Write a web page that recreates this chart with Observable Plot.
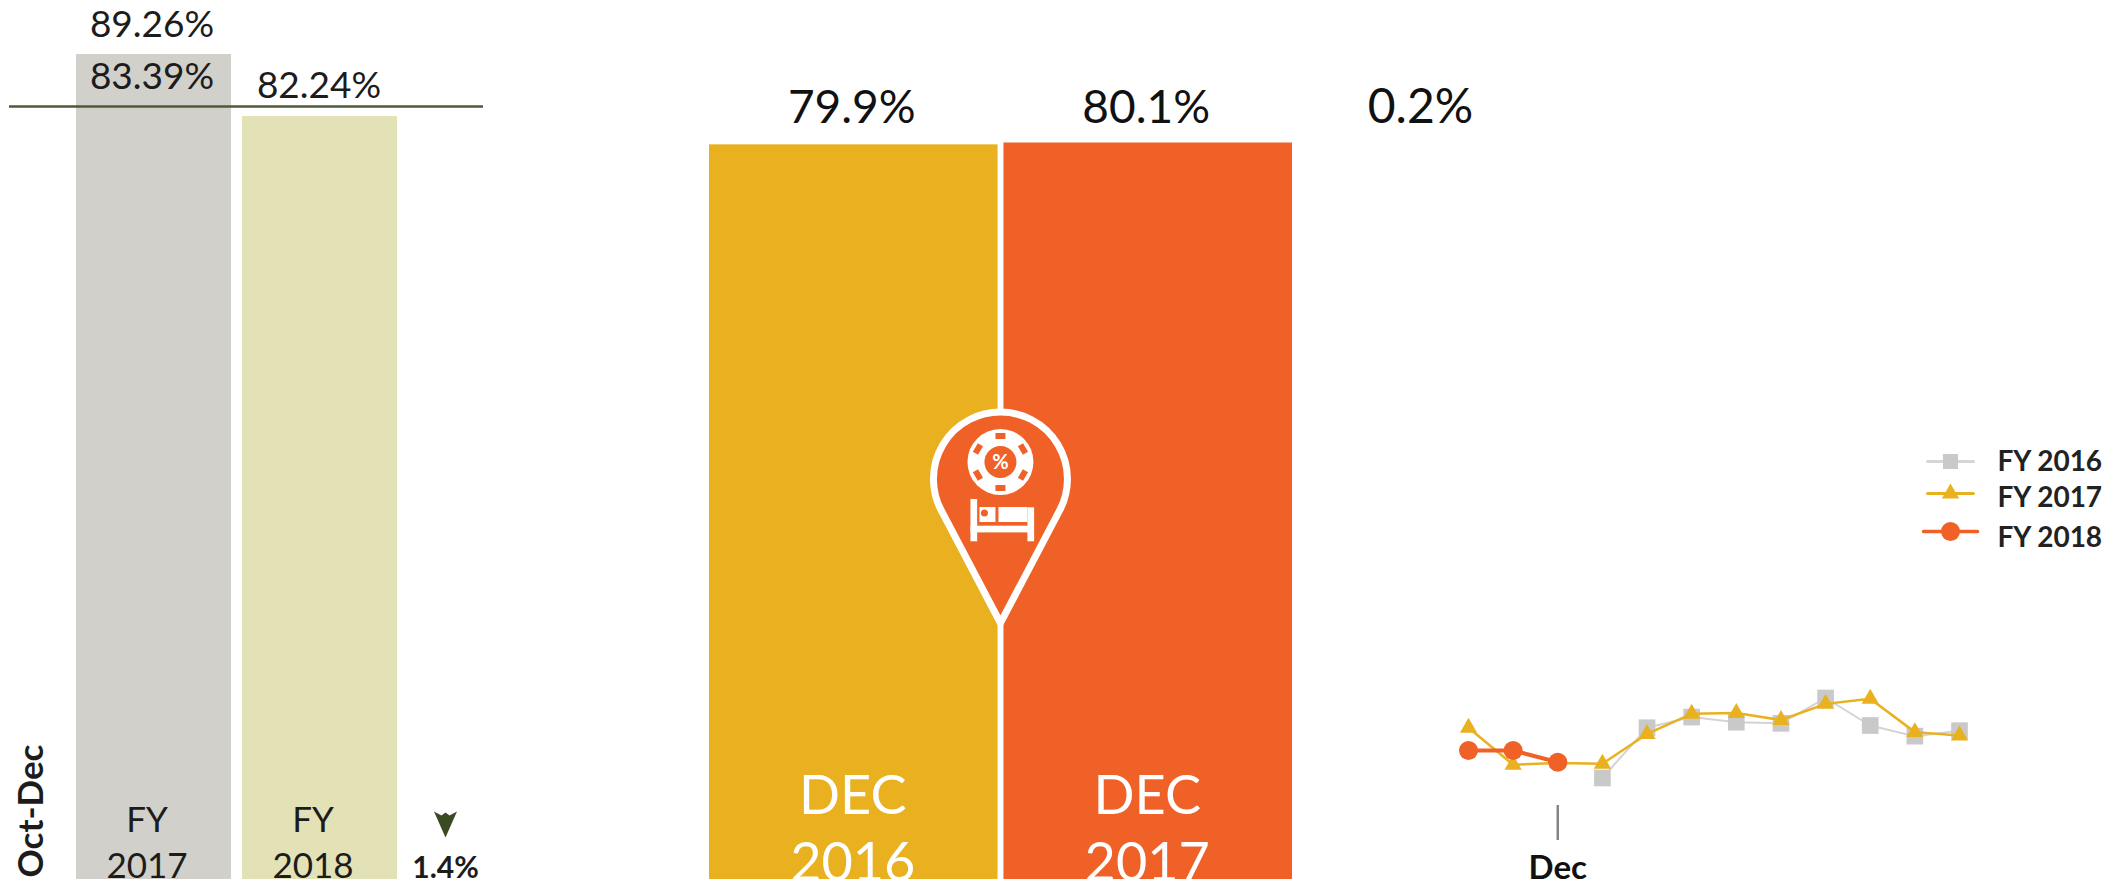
<!DOCTYPE html>
<html>
<head>
<meta charset="utf-8">
<script src="https://cdn.jsdelivr.net/npm/d3@7"></script>
<script src="https://cdn.jsdelivr.net/npm/@observablehq/plot@0.6"></script>
<style>
  html,body{margin:0;padding:0;background:#fff;width:2128px;height:882px;overflow:hidden;position:relative}
  svg{position:absolute}
</style>
</head>
<body>
<script>
// ---- data ----
const fyCategories = ["FY 2017", "FY 2018"];
const fyValues = [89.26, 82.24];
const fyInnerValue = 83.39;
const fyChange = "1.4%";
const periodLabel = "Oct-Dec";

const decCategories = ["DEC 2016", "DEC 2017"];
const decValues = [79.9, 80.1];
const decChange = "0.2%";

const months = ["Oct","Nov","Dec","Jan","Feb","Mar","Apr","May","Jun","Jul","Aug","Sep"];
const fy2016 = [null,null,null,75.8,89.5,92.4,91.0,90.7,97.6,90.1,87.2,88.7];
const fy2017 = [89.5,79.4,79.9,79.7,87.8,93.3,93.5,91.6,96.0,97.4,88.3,87.4];
const fy2018 = [83.3,83.3,80.1,null,null,null,null,null,null,null,null,null];
const legendNames = ["FY 2016","FY 2017","FY 2018"];

const FONT = "Lato, sans-serif";
const INK = "#1c1c1c";
const GREY = "#c9c9c9", YEL = "#e9b120", ORG = "#ef6127";

function place(svg, left, top) {
  svg.style.left = left + "px";
  svg.style.top = top + "px";
  document.body.appendChild(svg);
}
const twoLine = s => s.replace(" ", "\n");

// ---- left panel ----
const fyRows = fyCategories.map((c, i) => ({cat: c, value: fyValues[i]}));
const arrowSymbol = {
  draw(ctx) {
    ctx.moveTo(-11.5, -13); ctx.lineTo(-4, -9); ctx.lineTo(0, -12); ctx.lineTo(4, -9);
    ctx.lineTo(11.5, -13); ctx.lineTo(0, 13); ctx.closePath();
  }
};
place(Plot.plot({
  width: 520, height: 882,
  marginLeft: 9, marginRight: 37, marginTop: 54, marginBottom: 3,
  style: {background: "transparent", overflow: "visible", fontFamily: FONT},
  x: {type: "band", domain: fyCategories, range: [76, 397], paddingInner: 0.066, paddingOuter: 0, round: false, axis: null},
  y: {domain: [-4.06, 89.26], axis: null},
  marks: [
    Plot.barY(fyRows, {x: "cat", y1: -4.06, y2: "value", fill: d => d.cat === fyCategories[0] ? "#d1d0cb" : "#e3e1b6"}),
    Plot.ruleY([fyInnerValue], {stroke: "#4c5a3a", strokeWidth: 2.5}),
    Plot.text([fyRows[0]], {x: "cat", y: "value", text: d => d.value.toFixed(2) + "%", lineAnchor: "bottom", dy: -18, dx: -2, fontSize: 37, fill: INK}),
    Plot.text([fyInnerValue], {x: () => fyCategories[0], y: d => d, text: d => d.toFixed(2) + "%", lineAnchor: "bottom", dy: -17, dx: -2, fontSize: 37, fill: INK}),
    Plot.text([fyRows[1]], {x: "cat", y: "value", text: d => d.value.toFixed(2) + "%", lineAnchor: "bottom", dy: -19, dx: -1, fontSize: 37, fill: INK}),
    Plot.text(fyRows, {x: "cat", text: d => twoLine(d.cat), frameAnchor: "bottom", lineAnchor: "bottom", dy: -2, dx: -7, fontSize: 35, lineHeight: 1.29, fill: INK}),
    Plot.text([periodLabel], {text: d => d, frameAnchor: "bottom-left", textAnchor: "start", lineAnchor: "bottom", rotate: -90, dx: 33, dy: -2, fontSize: 35, fontWeight: 700, fill: INK}),
    Plot.text([fyChange], {text: d => d, frameAnchor: "bottom-right", textAnchor: "middle", lineAnchor: "bottom", dx: -38, dy: -2, fontSize: 30, fontWeight: 700, fill: INK}),
    Plot.dot([fyChange], {frameAnchor: "bottom-right", symbol: arrowSymbol, fill: "#3a4a22", stroke: "none", dx: -38, dy: -55})
  ]
}), 0, 0);

// ---- centre panel ----
const decRows = decCategories.map((c, i) => ({cat: c, value: decValues[i]}));
function pinMark(index, scales) {
  const cx = scales.x(decCategories[1]) - 3;
  const cy = scales.y(0) - 400;
  const g = d3.create("svg:g").attr("transform", `translate(${cx},${cy})`);
  g.append("path").attr("d", "M0,144L-59.3,31.2A67,67 0 1 1 59.3,31.2Z")
    .attr("fill", ORG).attr("stroke", "#fff").attr("stroke-width", 7)
    .attr("stroke-linejoin", "miter").attr("stroke-miterlimit", 10);
  g.append("circle").attr("cy", -17).attr("r", 33).attr("fill", "#fff");
  for (let a = 0; a < 360; a += 60) {
    g.append("rect").attr("x", -5).attr("y", -29).attr("width", 10).attr("height", 6).attr("fill", ORG)
      .attr("transform", `translate(0,-17) rotate(${a})`);
  }
  g.append("circle").attr("cy", -17).attr("r", 16).attr("fill", ORG);
  g.append("text").attr("y", -10).attr("text-anchor", "middle").attr("font-size", 20).attr("font-weight", 700)
    .attr("fill", "#fff").attr("font-family", FONT).text("%");
  const bed = [[-30,20,6.7,42.3],[27,28.3,6.7,34],[-30,46.7,63,6.7],[-21,28,16,15],[-2,28,29,15]];
  for (const [x,y,w,h] of bed) g.append("rect").attr("x",x).attr("y",y).attr("width",w).attr("height",h).attr("fill","#fff");
  g.append("circle").attr("cx",-16).attr("cy",34).attr("r",3.5).attr("fill",ORG);
  return g.node();
}
place(Plot.plot({
  width: 800, height: 882,
  marginLeft: 69, marginRight: 148, marginTop: 142.5, marginBottom: 3,
  style: {background: "transparent", overflow: "visible", fontFamily: FONT},
  x: {type: "band", domain: decCategories, paddingInner: 0.02, paddingOuter: 0, round: false, axis: null},
  y: {domain: [0, 80.1], axis: null},
  marks: [
    Plot.barY(decRows, {x: "cat", y: "value", fill: d => d.cat === decCategories[0] ? YEL : ORG}),
    Plot.text(decRows, {x: "cat", y: () => 80.1, text: d => d.value.toFixed(1) + "%", lineAnchor: "bottom", dy: -20, dx: -2, fontSize: 46, fill: "#111"}),
    Plot.text([decChange], {text: d => d, frameAnchor: "top-right", textAnchor: "middle", lineAnchor: "bottom", dx: 128, dy: -20, fontSize: 48, fill: "#111"}),
    Plot.text(decRows, {x: "cat", text: d => twoLine(d.cat), frameAnchor: "bottom", lineAnchor: "bottom", dy: 1, dx: -1, fontSize: 54, lineHeight: 1.24, fill: "#fff"}),
    pinMark
  ]
}), 640, 0);

// ---- line panel ----
const lineRows = a => months.map((m, i) => ({month: m, v: a[i]})).filter(d => d.v != null);
place(Plot.plot({
  width: 560, height: 222,
  marginLeft: 28, marginRight: 41, marginTop: 28.7, marginBottom: 77,
  style: {background: "transparent", overflow: "visible", fontFamily: FONT},
  x: {type: "point", domain: months, padding: 0, round: false, axis: null},
  y: {domain: [68.3, 100], axis: null},
  marks: [
    Plot.line(lineRows(fy2016), {x: "month", y: "v", stroke: "#d4d4d4", strokeWidth: 2}),
    Plot.dot(lineRows(fy2016), {x: "month", y: "v", symbol: "square", r: 9.4, fill: GREY, stroke: "none"}),
    Plot.line(lineRows(fy2017), {x: "month", y: "v", stroke: YEL, strokeWidth: 2.5}),
    Plot.dot(lineRows(fy2017), {x: "month", y: "v", symbol: "triangle", r: 6.4, fill: YEL, stroke: "none"}),
    Plot.line(lineRows(fy2018), {x: "month", y: "v", stroke: ORG, strokeWidth: 4}),
    Plot.dot(lineRows(fy2018), {x: "month", y: "v", symbol: "circle", r: 9.5, fill: ORG, stroke: "none"}),
    Plot.axisX(["Dec"], {anchor: "bottom", label: null, tickSize: 35, tickPadding: 15, stroke: "#858585", strokeWidth: 2.5, fill: "#111", fontSize: 33, fontWeight: 700})
  ]
}), 1440, 660);

// ---- legend ----
const legendStyle = {
  "FY 2016": {c: "#d6d6d6", fill: GREY, sym: "square", r: 8.5, w: 3, span: 0.85, lineDy: 0, textDy: 0.5},
  "FY 2017": {c: YEL, fill: YEL, sym: "triangle", r: 6.4, w: 3, span: 0.85, lineDy: -3, textDy: 2},
  "FY 2018": {c: ORG, fill: ORG, sym: "circle", r: 9.5, w: 3.5, span: 1, lineDy: 0, textDy: 6.5}
};
place(Plot.plot({
  width: 228, height: 120,
  marginLeft: 23, marginRight: 151, marginTop: 21, marginBottom: 29,
  style: {background: "transparent", overflow: "visible", fontFamily: FONT},
  x: {domain: [-1, 1], axis: null},
  y: {type: "point", domain: legendNames, padding: 0, round: false, axis: null},
  marks: legendNames.flatMap(n => {
    const s = legendStyle[n];
    return [
      Plot.line([-s.span, s.span], {x: d => d, y: () => n, stroke: s.c, strokeWidth: s.w, dy: s.lineDy}),
      Plot.dot([0], {x: d => d, y: () => n, symbol: s.sym, r: s.r, fill: s.fill, stroke: "none", dy: s.lineDy}),
      Plot.text([n], {x: () => 1, y: () => n, text: d => d, textAnchor: "start", dx: 20, dy: s.textDy, fontSize: 28, fontWeight: 700, fill: "#222"})
    ];
  })
}), 1900, 440);
</script>
</body>
</html>
